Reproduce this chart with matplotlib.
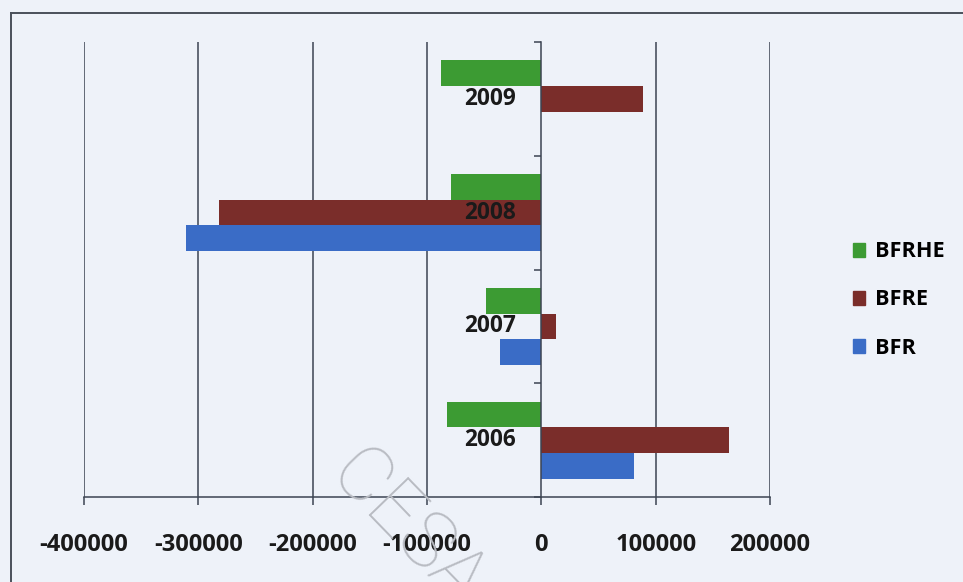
import matplotlib
matplotlib.use("Agg")
import matplotlib.pyplot as plt
from matplotlib.lines import Line2D
from matplotlib.patches import Patch
import numpy as np

# Data
years = ["2006", "2007", "2008", "2009"]
bfr = [81000, -36000, -311000, 0]
bfre = [164500, 13000, -282000, 89000]
bfrhe = [-82500, -48000, -79000, -88000]
x_ticks = [-400000, -300000, -200000, -100000, 0, 100000, 200000]

c_bfr = "#3a6cc6"
c_bfre = "#7a2d2a"
c_bfrhe = "#3c9b33"
bg = "#eef2f9"
grid_c = "#3c4452"

plt.rcParams["font.family"] = ["Open Sans", "DejaVu Sans"]

fig = plt.figure(figsize=(9.63, 5.82), dpi=100, facecolor=bg)
ax = fig.add_axes([84 / 963, 1 - 497 / 582, (770 - 84) / 963, (497 - 42) / 582])
ax.set_facecolor(bg)

y = np.arange(len(years))
h = 0.225
ax.barh(y - h, bfr, height=h, color=c_bfr, zorder=3)
ax.barh(y, bfre, height=h, color=c_bfre, zorder=3)
ax.barh(y + h, bfrhe, height=h, color=c_bfrhe, zorder=3)

ax.set_xlim(-400000, 200000)
ax.set_ylim(-0.5, 3.5)

# vertical gridlines
for xv in x_ticks:
    if xv != 0:
        ax.axvline(xv, color=grid_c, lw=1.1, zorder=1)

ax.set_xticks(x_ticks)
ax.set_xticklabels([str(v) for v in x_ticks], fontsize=17, fontweight="bold", color="#1a1a1a")
ax.tick_params(axis="x", length=6, width=1.1, color=grid_c, pad=20)

# category axis sitting at zero
ax.spines["left"].set_position(("data", 0))
ax.spines["left"].set_color(grid_c)
ax.spines["left"].set_linewidth(1.1)
ax.spines["left"].set_zorder(4)
ax.set_yticks([-0.5, 0.5, 1.5, 2.5, 3.5])
ax.set_yticklabels([])
ax.tick_params(axis="y", length=5, width=1.1, color=grid_c)
ax.spines["bottom"].set_color(grid_c)
ax.spines["bottom"].set_linewidth(1.1)
ax.spines["top"].set_visible(False)
ax.spines["right"].set_visible(False)

for yi, lab in zip(y, years):
    ax.annotate(lab, xy=(0, yi), xytext=(-18, 0), textcoords="offset points",
                ha="right", va="center", fontsize=16.3, fontweight="bold",
                color="#1a1a1a", zorder=6)

handles = [Patch(color=c_bfrhe), Patch(color=c_bfre), Patch(color=c_bfr)]
fig.legend(handles, ["BFRHE", "BFRE", "BFR"], loc="center left",
           bbox_to_anchor=(853 / 963, 1 - 300 / 582), frameon=False,
           prop={"size": 15.6, "weight": "bold"}, handlelength=0.55, handleheight=0.6,
           handletextpad=0.45, labelspacing=1.25, borderpad=0, borderaxespad=0)

# outer frame
fig.add_artist(Line2D([11 / 963, 11 / 963], [0, 1 - 13 / 582], transform=fig.transFigure,
                      color="#4a505a", lw=1.4))
fig.add_artist(Line2D([11 / 963, 1], [1 - 13 / 582, 1 - 13 / 582], transform=fig.transFigure,
                      color="#4a505a", lw=1.4))

# faint stamp across the lower axis area
fig.text(406 / 963, 1 - 530 / 582, "CESA", rotation=-46, rotation_mode="anchor",
         ha="center", va="center", fontsize=56, color="#b9bcc3", zorder=10,
         family="Roboto", fontweight=100)

fig.savefig("out.png", dpi=100, facecolor=bg)
